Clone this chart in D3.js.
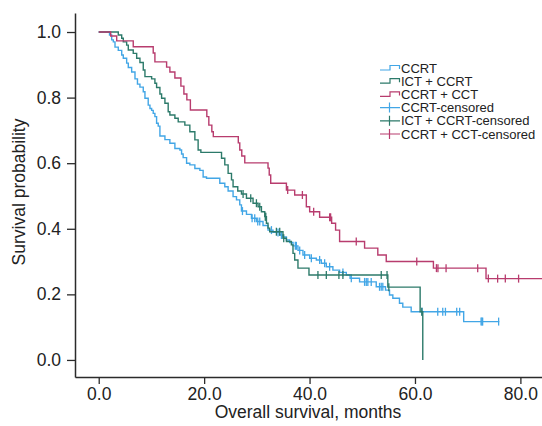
<!DOCTYPE html>
<html>
<head>
<meta charset="utf-8">
<script src="https://cdn.jsdelivr.net/npm/d3@7"></script>
<style>
  body { margin: 0; background: #fff; }
  svg { display: block; }
  text { font-family: "Liberation Sans", Arial, Helvetica, sans-serif; }
</style>
</head>
<body>
<svg id="chart" width="542" height="426"></svg>
<script>
// CCRT (blue)
const ccrtTime = [0, 2.05, 2.46, 2.77, 3.09, 3.71, 4.36, 4.66, 5.30, 5.61, 6.25, 6.88, 7.35, 7.82, 8.45, 8.77, 9.39, 9.72, 10.04, 10.34,
  10.66, 10.98, 11.29, 11.61, 12.56, 13.5, 14.45, 15.4, 15.72, 16.02, 16.67, 17.29, 18.24, 19.19, 19.81, 20.45, 22.97, 23.92, 24.55, 25.49,
  26.14, 26.76, 27.08, 28.03, 28.98, 29.92, 31.17, 32.12, 33.07, 34.34, 34.96, 35.61, 36.23, 36.86, 37.8, 38.75, 40.02, 41.29, 42.23, 43.18,
  44.43, 45.7, 46.97, 47.69, 49.49, 52.65, 54.41, 55.17, 55.8, 57.06, 57.69, 59.28, 69.24];
const ccrtSurv = [1, 0.991, 0.976, 0.970, 0.954, 0.944, 0.930, 0.920, 0.905, 0.892, 0.878, 0.857, 0.841, 0.832, 0.818, 0.798, 0.777, 0.767, 0.761, 0.752,
  0.742, 0.722, 0.713, 0.683, 0.672, 0.661, 0.645, 0.640, 0.628, 0.617, 0.600, 0.595, 0.584, 0.578, 0.558, 0.554, 0.539, 0.528, 0.515, 0.498,
  0.488, 0.473, 0.454, 0.444, 0.432, 0.422, 0.410, 0.396, 0.389, 0.381, 0.375, 0.366, 0.358, 0.348, 0.334, 0.320, 0.310, 0.305, 0.295, 0.284,
  0.274, 0.267, 0.259, 0.249, 0.238, 0.223, 0.213, 0.198, 0.188, 0.173, 0.161, 0.147, 0.117];
const ccrtCensor = [27.27, 29.1, 29.6, 30.17, 30.55, 32.77, 34.02, 34.66, 37.3, 37.5, 38.13, 39.07, 40.34, 41.91, 42.86, 43.81, 46.33, 47.92,
  50.44, 50.76, 51.06, 51.7, 53.28, 53.6, 53.9, 61.36, 64.32, 65.27, 65.78, 67.92, 68.48, 72.54, 72.69, 72.84, 75.87];
const ccrtEnd = 76.0;

// ICT + CCRT (teal)
const ictTime = [0, 3.71, 4.36, 4.66, 5.30, 5.61, 6.55, 7.20, 7.82, 8.45, 8.77, 10.04, 10.66, 10.98, 11.61, 11.93, 12.56, 13.18, 13.5, 14.45,
  15.08, 16.34, 17.29, 18.24, 18.86, 19.38, 23.3, 23.92, 24.55, 25.19, 25.49, 26.38, 27.08, 28.03, 29.28, 30.23, 30.87, 31.5, 31.82, 32.12,
  32.44, 34.96, 35.61, 36.55, 36.86, 37.18, 37.8, 39.89, 54.85, 60.98, 61.48];
const ictSurv = [1, 0.991, 0.981, 0.970, 0.960, 0.945, 0.935, 0.920, 0.907, 0.884, 0.864, 0.857, 0.844, 0.831, 0.811, 0.798, 0.783, 0.757, 0.747, 0.737,
  0.726, 0.716, 0.696, 0.671, 0.640, 0.633, 0.615, 0.595, 0.569, 0.549, 0.528, 0.515, 0.506, 0.493, 0.478, 0.467, 0.452, 0.437, 0.417, 0.402,
  0.391, 0.371, 0.361, 0.351, 0.325, 0.305, 0.280, 0.259, 0.222, 0.147, 0];
const ictCensor = [27.39, 28.84, 29.92, 30.55, 31.6, 31.7, 33.71, 34.34, 35.1, 41.59, 43.18, 45.57, 46.33, 53.6, 54.7, 55.04, 61.29];
const ictEnd = 61.48;

// CCRT + CCT (magenta)
const cctTime = [0, 2.27, 3.41, 6.55, 10.34, 10.66, 12.88, 13.5, 14.45, 15.59, 16.16, 16.72, 17.39, 20.51, 20.89, 21.46, 21.74, 26.48, 26.76, 27.14,
  27.71, 32.12, 32.35, 32.63, 35.61, 37.18, 39.39, 40.02, 41.91, 44.19, 44.94, 45.7, 50.44, 52.95, 54.55, 63.5, 73.48];
const cctSurv = [1, 0.988, 0.973, 0.955, 0.936, 0.909, 0.893, 0.878, 0.860, 0.835, 0.811, 0.793, 0.762, 0.742, 0.716, 0.696, 0.681, 0.662, 0.640, 0.622,
  0.601, 0.585, 0.564, 0.539, 0.518, 0.503, 0.467, 0.452, 0.435, 0.417, 0.396, 0.361, 0.341, 0.320, 0.300, 0.280, 0.248];
const cctCensor = [35.85, 38.64, 40.78, 43.81, 44.0, 48.86, 60.34, 64.07, 64.36, 65.9, 71.9, 73.92, 75.68, 77.14, 79.66];
const cctEnd = 85;

const xTicks = [0, 20, 40, 60, 80];
const yTicks = [0, 0.2, 0.4, 0.6, 0.8, 1.0];
const legendLabels = ['CCRT', 'ICT + CCRT', 'CCRT + CCT', 'CCRT-censored', 'ICT + CCRT-censored', 'CCRT + CCT-censored'];

const colors = { ccrt: '#42a6e6', ict: '#2c7a6a', cct: '#b83c6e' };

const series = [
  { key: 'ccrt', time: ccrtTime, surv: ccrtSurv, censor: ccrtCensor, end: ccrtEnd },
  { key: 'ict', time: ictTime, surv: ictSurv, censor: ictCensor, end: ictEnd },
  { key: 'cct', time: cctTime, surv: cctSurv, censor: cctCensor, end: cctEnd }
];

const svg = d3.select('#chart');

// axis frame: left axis at x=75, bottom axis at y=377
const x = d3.scaleLinear().domain([-4.5, 84.1]).range([75, 542]);
const y = d3.scaleLinear().domain([-0.052, 1.058]).range([377, 13]);

const plot = svg.append('g');
plot.append('clipPath').attr('id', 'clip')
  .append('rect').attr('x', 75).attr('y', 0).attr('width', 467).attr('height', 377);

function survAt(s, t) {
  var v = s.surv[0];
  for (var i = 0; i < s.time.length; i++) {
    if (s.time[i] <= t) v = s.surv[i];
  }
  return v;
}

const line = d3.line()
  .x(d => x(d[0]))
  .y(d => y(d[1]))
  .curve(d3.curveStepAfter);

const curves = plot.append('g').attr('clip-path', 'url(#clip)');

series.forEach(function (s) {
  var n = Math.min(s.time.length, s.surv.length);
  var pts = [];
  for (var i = 0; i < n; i++) pts.push([s.time[i], s.surv[i]]);
  pts.push([s.end, s.surv[n - 1]]);

  curves.append('path')
    .attr('d', line(pts))
    .attr('fill', 'none')
    .attr('stroke', colors[s.key])
    .attr('stroke-width', 1.4);

  curves.selectAll('line.c-' + s.key)
    .data(s.censor)
    .enter()
    .append('line')
    .attr('class', 'c-' + s.key)
    .attr('x1', d => x(d)).attr('x2', d => x(d))
    .attr('y1', d => y(survAt(s, d)) - 4)
    .attr('y2', d => y(survAt(s, d)) + 4)
    .attr('stroke', colors[s.key])
    .attr('stroke-width', 1.3);
});

// axes
const axisColor = '#2b2b2b';

const gx = svg.append('g')
  .attr('transform', 'translate(0,377)')
  .call(d3.axisBottom(x).tickValues(xTicks).tickFormat(d3.format('.1f')).tickSize(7).tickPadding(4).tickSizeOuter(0));

const gy = svg.append('g')
  .attr('transform', 'translate(75,0)')
  .call(d3.axisLeft(y).tickValues(yTicks).tickFormat(d3.format('.1f')).tickSize(8).tickPadding(6).tickSizeOuter(0));

[gx, gy].forEach(function (g) {
  g.select('.domain').attr('stroke', axisColor).attr('stroke-width', 1.5);
  g.selectAll('.tick line').attr('stroke', axisColor).attr('stroke-width', 1.3);
  g.selectAll('.tick text')
    .attr('fill', '#222')
    .style('font-size', '17.5px')
    .style('font-family', '"Liberation Sans", Arial, sans-serif');
});

svg.append('text')
  .attr('x', 308)
  .attr('y', 418)
  .attr('text-anchor', 'middle')
  .attr('fill', '#222')
  .style('font-size', '17.5px')
  .text('Overall survival, months');

svg.append('text')
  .attr('transform', 'translate(25,192) rotate(-90)')
  .attr('text-anchor', 'middle')
  .attr('fill', '#222')
  .style('font-size', '17.5px')
  .text('Survival probability');

// legend
const legend = svg.append('g').attr('transform', 'translate(380,68)');
const legendKeys = ['ccrt', 'ict', 'cct', 'ccrt', 'ict', 'cct'];

legendLabels.forEach(function (lab, i) {
  var g = legend.append('g').attr('transform', 'translate(0,' + (i * 13.2) + ')');
  var c = colors[legendKeys[i]];
  if (i < 3) {
    g.append('path')
      .attr('d', 'M0,2H10V-2.5H19.5V1')
      .attr('fill', 'none')
      .attr('stroke', c)
      .attr('stroke-width', 1.2);
  } else {
    g.append('path')
      .attr('d', 'M0,0H20M9.5,-5V5')
      .attr('fill', 'none')
      .attr('stroke', c)
      .attr('stroke-width', 1.2);
  }
  g.append('text')
    .attr('x', 21)
    .attr('y', 4.6)
    .attr('fill', '#222')
    .style('font-size', '13px')
    .text(lab);
});
</script>
</body>
</html>
